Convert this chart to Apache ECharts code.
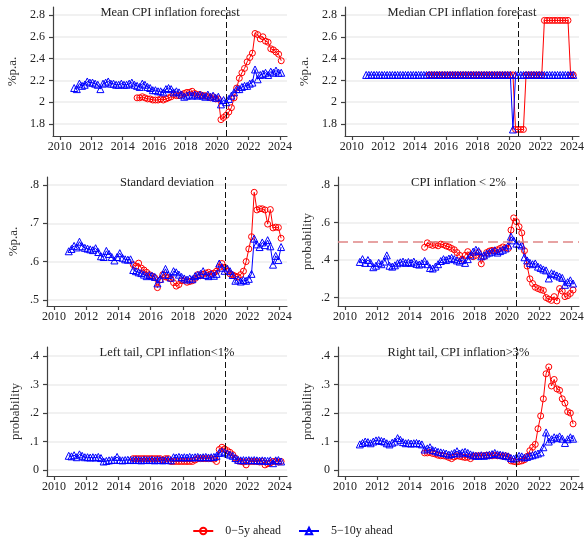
<!DOCTYPE html>
<html>
<head>
<meta charset="utf-8">
<script src="https://cdn.jsdelivr.net/npm/echarts@6/dist/echarts.min.js"></script>
<style>
  html, body { margin: 0; padding: 0; background: #fff; }
  #chart { width: 585px; height: 537px; }
</style>
</head>
<body>
<div id="chart"></div>
<script>
// survey rounds, read every second month: 5-10y from Dec 2010, 0-5y from Dec 2014
const blueStart = 2010 + 11 / 12
const redStart = 2014 + 11 / 12
const stepYears = 2 / 12

const seriesNames = ['0\u22125y ahead', '5\u221210y ahead']
const yearTicks = [2010, 2012, 2014, 2016, 2018, 2020, 2022, 2024]
const levelTicks = [1.8, 2, 2.2, 2.4, 2.6, 2.8]
const sdTicks = [0.5, 0.6, 0.7, 0.8]
const probTicks = [0.2, 0.4, 0.6, 0.8]
const tailTicks = [0, 0.1, 0.2, 0.3, 0.4]

const breakDate = 2020.6
const probThreshold = 0.5

// Mean CPI inflation forecast
const meanBlue = [
  2.13, 2.12, 2.17, 2.15, 2.16, 2.19, 2.18, 2.18, 2.17, 2.16,
  2.12, 2.17, 2.18, 2.19, 2.17, 2.17, 2.16, 2.16, 2.17, 2.16,
  2.16, 2.17, 2.18, 2.16, 2.15, 2.14, 2.17, 2.16, 2.14, 2.13,
  2.11, 2.11, 2.10, 2.10, 2.09, 2.12, 2.13, 2.12, 2.09, 2.10,
  2.09, 2.07, 2.05, 2.06, 2.07, 2.06, 2.07, 2.06, 2.07, 2.06,
  2.05, 2.07, 2.05, 2.06, 2.04, 2.05, 1.98, 2.02, 2.00, 2.03,
  2.06, 2.09, 2.12, 2.12, 2.14, 2.15, 2.15, 2.17, 2.18, 2.30,
  2.21, 2.25, 2.26, 2.27, 2.25, 2.28, 2.27, 2.29, 2.27, 2.27
]
const meanRed = [
  2.04, 2.04, 2.05, 2.04, 2.03, 2.03, 2.02, 2.02, 2.02, 2.03,
  2.02, 2.03, 2.04, 2.05, 2.07, 2.06, 2.06, 2.07, 2.08, 2.09,
  2.09, 2.10, 2.08, 2.07, 2.07, 2.06, 2.06, 2.05, 2.04, 2.05,
  2.03, 2.03, 1.84, 1.86, 1.88, 1.91, 1.95, 2.04, 2.13, 2.22,
  2.27, 2.31, 2.37, 2.41, 2.45, 2.63, 2.62, 2.58, 2.60, 2.56,
  2.55, 2.49, 2.48, 2.46, 2.44, 2.38
]

// Median CPI inflation forecast
const medianBlue = [
  2.25, 2.25, 2.25, 2.25, 2.25, 2.25, 2.25, 2.25, 2.25, 2.25,
  2.25, 2.25, 2.25, 2.25, 2.25, 2.25, 2.25, 2.25, 2.25, 2.25,
  2.25, 2.25, 2.25, 2.25, 2.25, 2.25, 2.25, 2.25, 2.25, 2.25,
  2.25, 2.25, 2.25, 2.25, 2.25, 2.25, 2.25, 2.25, 2.25, 2.25,
  2.25, 2.25, 2.25, 2.25, 2.25, 2.25, 2.25, 2.25, 2.25, 2.25,
  2.25, 2.25, 2.25, 2.25, 2.25, 2.25, 1.75, 2.25, 2.25, 2.25,
  2.25, 2.25, 2.25, 2.25, 2.25, 2.25, 2.25, 2.25, 2.25, 2.25,
  2.25, 2.25, 2.25, 2.25, 2.25, 2.25, 2.25, 2.25, 2.25, 2.25
]
const medianRed = [
  2.25, 2.25, 2.25, 2.25, 2.25, 2.25, 2.25, 2.25, 2.25, 2.25,
  2.25, 2.25, 2.25, 2.25, 2.25, 2.25, 2.25, 2.25, 2.25, 2.25,
  2.25, 2.25, 2.25, 2.25, 2.25, 2.25, 2.25, 2.25, 2.25, 2.25,
  2.25, 2.25, 2.25, 1.75, 1.75, 1.75, 1.75, 2.25, 2.25, 2.25,
  2.25, 2.25, 2.25, 2.25, 2.75, 2.75, 2.75, 2.75, 2.75, 2.75,
  2.75, 2.75, 2.75, 2.75, 2.25, 2.25
]

// Standard deviation
const sdBlue = [
  0.627, 0.633, 0.641, 0.637, 0.652, 0.640, 0.636, 0.634, 0.632, 0.630,
  0.635, 0.625, 0.614, 0.612, 0.628, 0.620, 0.612, 0.603, 0.612, 0.622,
  0.610, 0.606, 0.605, 0.606, 0.578, 0.575, 0.572, 0.570, 0.566, 0.562,
  0.565, 0.563, 0.560, 0.543, 0.555, 0.566, 0.581, 0.565, 0.558, 0.575,
  0.572, 0.566, 0.560, 0.556, 0.553, 0.556, 0.554, 0.562, 0.565, 0.568,
  0.575, 0.565, 0.562, 0.567, 0.563, 0.568, 0.595, 0.584, 0.576, 0.582,
  0.575, 0.565, 0.550, 0.553, 0.548, 0.552, 0.550, 0.555, 0.568, 0.660,
  0.645, 0.638, 0.650, 0.643, 0.656, 0.640, 0.592, 0.615, 0.604, 0.638
]
const sdRed = [
  0.592, 0.588, 0.596, 0.583, 0.578, 0.572, 0.566, 0.562, 0.558, 0.532,
  0.552, 0.566, 0.560, 0.558, 0.555, 0.545, 0.536, 0.540, 0.550, 0.552,
  0.546, 0.548, 0.550, 0.556, 0.566, 0.563, 0.567, 0.570, 0.572, 0.568,
  0.570, 0.575, 0.585, 0.595, 0.585, 0.575, 0.568, 0.565, 0.562, 0.560,
  0.566, 0.575, 0.600, 0.633, 0.665, 0.781, 0.735, 0.738, 0.738, 0.735,
  0.698, 0.736, 0.688, 0.690, 0.689, 0.661
]

// CPI inflation < 2%
const probBlue = [
  0.390, 0.405, 0.385, 0.400, 0.385, 0.362, 0.370, 0.385, 0.378, 0.392,
  0.425, 0.370, 0.365, 0.372, 0.383, 0.388, 0.392, 0.385, 0.390, 0.385,
  0.392, 0.380, 0.376, 0.382, 0.395, 0.378, 0.358, 0.355, 0.365, 0.378,
  0.395, 0.405, 0.400, 0.408, 0.412, 0.405, 0.398, 0.392, 0.400, 0.385,
  0.405, 0.425, 0.445, 0.455, 0.448, 0.420, 0.425, 0.435, 0.440, 0.445,
  0.452, 0.440, 0.448, 0.455, 0.462, 0.478, 0.525, 0.505, 0.488, 0.485,
  0.478, 0.415, 0.398, 0.385, 0.378, 0.382, 0.365, 0.358, 0.350, 0.345,
  0.302, 0.330, 0.325, 0.318, 0.312, 0.305, 0.268, 0.282, 0.292, 0.275
]
const probRed = [
  0.468, 0.492, 0.483, 0.478, 0.482, 0.476, 0.485, 0.482, 0.475, 0.470,
  0.462, 0.455, 0.440, 0.425, 0.405, 0.425, 0.445, 0.428, 0.418, 0.425,
  0.440, 0.380, 0.418, 0.440, 0.448, 0.452, 0.448, 0.455, 0.462, 0.470,
  0.465, 0.462, 0.560, 0.625, 0.605, 0.578, 0.545, 0.450, 0.368, 0.300,
  0.275, 0.255, 0.248, 0.242, 0.238, 0.200, 0.192, 0.185, 0.205, 0.182,
  0.248, 0.235, 0.205, 0.210, 0.222, 0.240
]

// Left tail, CPI inflation < 1%
const leftBlue = [
  0.050, 0.048, 0.052, 0.045, 0.055, 0.050, 0.045, 0.045, 0.044, 0.045,
  0.044, 0.046, 0.042, 0.030, 0.032, 0.034, 0.035, 0.036, 0.046, 0.035,
  0.034, 0.035, 0.036, 0.035, 0.035, 0.036, 0.035, 0.034, 0.036, 0.035,
  0.035, 0.036, 0.034, 0.036, 0.035, 0.034, 0.035, 0.036, 0.034, 0.045,
  0.044, 0.046, 0.044, 0.045, 0.044, 0.046, 0.044, 0.045, 0.046, 0.044,
  0.045, 0.046, 0.044, 0.045, 0.046, 0.050, 0.060, 0.065, 0.062, 0.058,
  0.054, 0.050, 0.042, 0.036, 0.034, 0.035, 0.034, 0.035, 0.034, 0.035,
  0.034, 0.033, 0.034, 0.033, 0.032, 0.034, 0.024, 0.034, 0.035, 0.030
]
const leftRed = [
  0.040, 0.040, 0.040, 0.040, 0.040, 0.040, 0.040, 0.040, 0.040, 0.040,
  0.040, 0.035, 0.040, 0.040, 0.030, 0.030, 0.030, 0.030, 0.030, 0.030,
  0.030, 0.030, 0.030, 0.035, 0.040, 0.040, 0.040, 0.040, 0.040, 0.040,
  0.038, 0.030, 0.072, 0.080, 0.074, 0.068, 0.062, 0.054, 0.042, 0.032,
  0.030, 0.028, 0.018, 0.030, 0.030, 0.030, 0.030, 0.028, 0.030, 0.018,
  0.022, 0.025, 0.030, 0.030, 0.028, 0.030
]

// Right tail, CPI inflation > 3%
const rightBlue = [
  0.090, 0.095, 0.100, 0.098, 0.094, 0.100, 0.104, 0.105, 0.102, 0.100,
  0.094, 0.090, 0.096, 0.100, 0.112, 0.106, 0.098, 0.094, 0.095, 0.093,
  0.094, 0.095, 0.093, 0.090, 0.072, 0.076, 0.080, 0.070, 0.068, 0.064,
  0.062, 0.060, 0.058, 0.054, 0.056, 0.060, 0.066, 0.058, 0.062, 0.064,
  0.060, 0.055, 0.052, 0.050, 0.050, 0.052, 0.050, 0.052, 0.054, 0.056,
  0.060, 0.055, 0.054, 0.052, 0.050, 0.048, 0.042, 0.040, 0.044, 0.050,
  0.048, 0.044, 0.046, 0.050, 0.052, 0.055, 0.058, 0.062, 0.080, 0.132,
  0.100, 0.108, 0.115, 0.112, 0.118, 0.110, 0.095, 0.108, 0.115, 0.110
]
const rightRed = [
  0.060, 0.060, 0.062, 0.058, 0.056, 0.052, 0.050, 0.050, 0.048, 0.044,
  0.040, 0.046, 0.050, 0.048, 0.046, 0.044, 0.045, 0.040, 0.048, 0.050,
  0.050, 0.050, 0.050, 0.052, 0.050, 0.050, 0.052, 0.050, 0.050, 0.048,
  0.050, 0.046, 0.032, 0.030, 0.028, 0.030, 0.032, 0.036, 0.048, 0.068,
  0.080, 0.090, 0.145, 0.190, 0.250, 0.338, 0.362, 0.295, 0.318, 0.285,
  0.280, 0.250, 0.235, 0.205, 0.200, 0.162
]

const serif = "'Liberation Serif', 'Times New Roman', serif"
const red = '#ff0000'
const blue = '#0000ff'

// layout of the six panels (pixels)
const panels = [
  {title: 'Mean CPI inflation forecast', red: meanRed, blue: meanBlue, ticks: levelTicks, yMin: 1.69, yMax: 2.873,
    name: '%p.a.', left: 53, width: 234, top: 7, nameGap: 34},
  {title: 'Median CPI inflation forecast', red: medianRed, blue: medianBlue, ticks: levelTicks, yMin: 1.69, yMax: 2.873,
    name: '%p.a.', left: 345, width: 234, top: 7, nameGap: 34},
  {title: 'Standard deviation', red: sdRed, blue: sdBlue, ticks: sdTicks, yMin: 0.484, yMax: 0.821,
    name: '%p.a.', left: 47, width: 240, top: 177, nameGap: 27},
  {title: 'CPI inflation < 2%', red: probRed, blue: probBlue, ticks: probTicks, yMin: 0.155, yMax: 0.843,
    name: 'probability', left: 338, width: 241, top: 177, nameGap: 24, threshold: true},
  {title: 'Left tail, CPI inflation<1%', red: leftRed, blue: leftBlue, ticks: tailTicks, yMin: -0.021, yMax: 0.432,
    name: 'probability', left: 47, width: 240, top: 347, nameGap: 25},
  {title: 'Right tail, CPI inflation>3%', red: rightRed, blue: rightBlue, ticks: tailTicks, yMin: -0.021, yMax: 0.432,
    name: 'probability', left: 338, width: 241, top: 347, nameGap: 24}
]
const plotHeight = 129

function toPoints (start, values) {
  return values.map((v, i) => [start + i * stepYears, v])
}

// stata style: .8 instead of 0.8
function shortNumber (v) {
  return String(v).replace(/^0\./, '.').replace(/^-0\./, '-.')
}

const axisLineStyle = {color: '#404040', width: 1.2}
const grids = []
const xAxes = []
const yAxes = []
const series = []
const titles = []

panels.forEach((p, k) => {
  grids.push({left: p.left, top: p.top, width: p.width, height: plotHeight, outerBoundsMode: 'none'})
  xAxes.push({
    type: 'value', gridIndex: k, min: 2009.57, max: 2024.45,
    axisLine: {show: true, onZero: false, lineStyle: axisLineStyle},
    axisTick: {show: true, length: 4, customValues: yearTicks, lineStyle: axisLineStyle},
    axisLabel: {customValues: yearTicks, margin: 5, fontFamily: serif, fontSize: 12, color: '#222',
      formatter: v => String(v)},
    splitLine: {show: false}
  })
  yAxes.push({
    type: 'value', gridIndex: k, min: p.yMin, max: p.yMax,
    name: p.name, nameLocation: 'middle', nameGap: p.nameGap,
    nameTextStyle: {fontFamily: serif, fontSize: 13, color: '#333'},
    axisLine: {show: true, onZero: false, lineStyle: axisLineStyle},
    axisTick: {show: true, length: 4, customValues: p.ticks, lineStyle: axisLineStyle},
    axisLabel: {customValues: p.ticks, margin: 8, fontFamily: serif, fontSize: 12, color: '#222', formatter: shortNumber},
    splitLine: {show: true, lineStyle: {color: '#ececec', width: 1.5}}
  })
  const redMarks = [{xAxis: breakDate, lineStyle: {color: '#111', type: [6, 3], width: 1}}]
  if (p.threshold) {
    redMarks.unshift({yAxis: probThreshold, lineStyle: {color: '#e08585', type: [10, 5], width: 1.6}})
  }
  series.push({
    name: seriesNames[0], type: 'line', xAxisIndex: k, yAxisIndex: k,
    data: toPoints(redStart, p.red),
    symbol: 'circle', symbolSize: 6,
    itemStyle: {color: 'rgba(255,255,255,0)', borderColor: red, borderWidth: 1},
    lineStyle: {color: red, width: 1},
    emphasis: {disabled: true},
    markLine: {silent: true, symbol: 'none', label: {show: false}, data: redMarks}
  })
  series.push({
    name: seriesNames[1], type: 'line', xAxisIndex: k, yAxisIndex: k,
    data: toPoints(blueStart, p.blue),
    symbol: 'triangle', symbolSize: 7,
    itemStyle: {color: 'rgba(255,255,255,0)', borderColor: blue, borderWidth: 1},
    lineStyle: {color: blue, width: 1},
    emphasis: {disabled: true}
  })
  titles.push({
    type: 'text', z: 100,
    x: p.left + p.width / 2, y: p.top + 5.5,
    style: {text: p.title, fontFamily: serif, fontSize: 12.5, fill: '#222', align: 'center', verticalAlign: 'middle'}
  })
})

const chart = echarts.init(document.getElementById('chart'), null, {renderer: 'canvas'})
chart.setOption({
  animation: false,
  backgroundColor: '#fff',
  grid: grids,
  xAxis: xAxes,
  yAxis: yAxes,
  series: series,
  graphic: titles,
  legend: {
    data: seriesNames, left: 'center', top: 525, padding: 0,
    itemGap: 17, itemWidth: 20, itemHeight: 8,
    textStyle: {fontFamily: serif, fontSize: 12, color: '#222', padding: [0, 0, 0, 7]}
  }
})
</script>
</body>
</html>
